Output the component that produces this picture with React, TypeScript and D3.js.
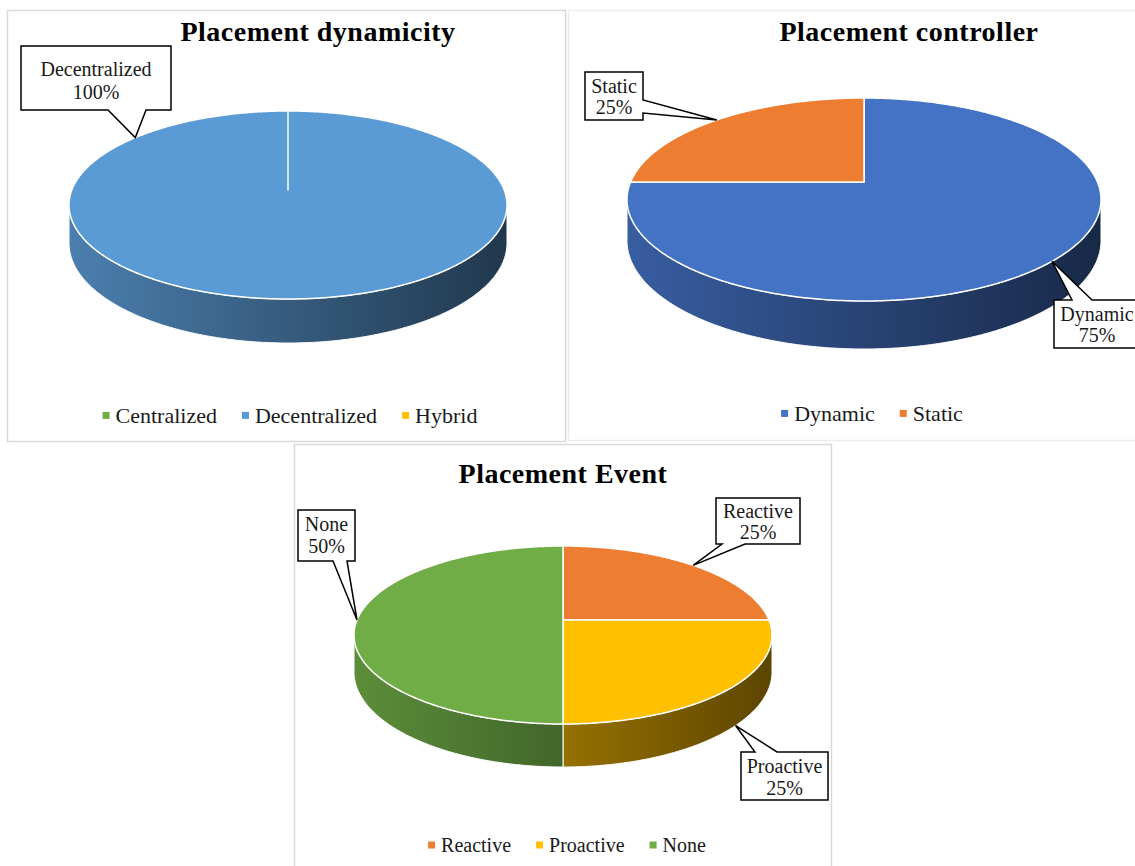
import React from 'react';
import * as d3 from 'd3';

const W = 1135;
const H = 866;
const FONT = "'Liberation Serif', 'Times New Roman', serif";

// ---------- Data ----------
const dynTitle = 'Placement dynamicity';
const dynCategories = ['Centralized', 'Decentralized', 'Hybrid'];
const dynValues = [0, 100, 0];
const dynColors = ['#70ad47', '#5b9bd5', '#ffc000'];

const ctrlTitle = 'Placement controller';
const ctrlCategories = ['Dynamic', 'Static'];
const ctrlValues = [75, 25];
const ctrlColors = ['#4472c4', '#ed7d31'];

const evtTitle = 'Placement Event';
const evtCategories = ['Reactive', 'Proactive', 'None'];
const evtValues = [25, 25, 50];
const evtColors = ['#ed7d31', '#ffc000', '#70ad47'];

// ---------- Layout ----------
type Callout = {
  idx: number;
  tipDeg: number;
  onBottom?: boolean;
  box: [number, number, number, number];
  edge: 'top' | 'bottom' | 'right';
  base: [number, number];
  lines: [number, number];
  textX?: number;
};

type PanelCfg = {
  id: string;
  frame: [number, number, number, number];
  frameColor: string;
  title: string;
  titleX: number;
  titleY: number;
  pie: { cx: number; cy: number; rx: number; top: number; bottom: number; depth: number };
  categories: string[];
  values: number[];
  colors: string[];
  legendX: number;
  legendY: number;
  legendFont: number;
  callouts: Callout[];
};

const panels: PanelCfg[] = [
  {
    id: 'p1',
    frame: [7.5, 10.5, 558, 431],
    frameColor: '#d9d9d9',
    title: dynTitle,
    titleX: 318,
    titleY: 41,
    pie: { cx: 288, cy: 190, rx: 219, top: 111, bottom: 299, depth: 44 },
    categories: dynCategories,
    values: dynValues,
    colors: dynColors,
    legendX: 290,
    legendY: 423,
    legendFont: 22,
    callouts: [
      { idx: 1, tipDeg: 309, box: [21, 46, 150, 64], edge: 'bottom', base: [108, 146], lines: [76, 99] },
    ],
  },
  {
    id: 'p2',
    frame: [568.5, 10.5, 580, 430],
    frameColor: '#ececec',
    title: ctrlTitle,
    titleX: 909,
    titleY: 41,
    pie: { cx: 864, cy: 182, rx: 237, top: 98, bottom: 301, depth: 48 },
    categories: ctrlCategories,
    values: ctrlValues,
    colors: ctrlColors,
    legendX: 872,
    legendY: 421,
    legendFont: 22,
    callouts: [
      { idx: 1, tipDeg: 315, box: [585, 72, 58, 48], edge: 'right', base: [100, 113], lines: [93, 114] },
      { idx: 0, tipDeg: 135, box: [1054, 300, 92, 48], edge: 'top', base: [1072, 1092], lines: [321, 342], textX: 1097 },
    ],
  },
  {
    id: 'p3',
    frame: [294.5, 444.5, 537, 430],
    frameColor: '#d9d9d9',
    title: evtTitle,
    titleX: 563,
    titleY: 483,
    pie: { cx: 563, cy: 620, rx: 209, top: 546, bottom: 724, depth: 43 },
    categories: evtCategories,
    values: evtValues,
    colors: evtColors,
    legendX: 567,
    legendY: 852,
    legendFont: 20,
    callouts: [
      { idx: 0, tipDeg: 45, box: [716, 498, 84, 46], edge: 'bottom', base: [722, 745], lines: [518, 539] },
      { idx: 1, tipDeg: 132, onBottom: true, box: [741, 752, 87, 48], edge: 'top', base: [755, 777], lines: [773, 795] },
      { idx: 2, tipDeg: 270, box: [298, 510, 57, 51], edge: 'bottom', base: [333, 347], lines: [531, 553] },
    ],
  },
];

let _ctx: CanvasRenderingContext2D | null = null;
function measure(text: string, size: number): number {
  if (!_ctx) {
    const c = document.createElement('canvas');
    _ctx = c.getContext('2d');
  }
  if (!_ctx) return text.length * size * 0.5;
  _ctx.font = `${size}px 'Liberation Serif'`;
  return _ctx.measureText(text).width;
}

function scaleColor(color: string, f: number): string {
  const c = d3.rgb(color);
  return d3.rgb(c.r * f, c.g * f, c.b * f).formatHex();
}

function Panel({ cfg }: { cfg: PanelCfg }) {
  const { cx, cy, rx, top, bottom, depth } = cfg.pie;
  const T = cy - top;
  const B = bottom - cy;
  const k = (B - T) / (B + T);
  const Rt = T * (1 + k);
  const R = rx * Math.sqrt(1 - k * k);
  const D0 = depth * (1 - k);
  const proj = (a: number, down = false): [number, number] => {
    const u = Math.sin(a);
    const v = -Math.cos(a);
    const s = 1 / (1 - k * v);
    return [cx + R * u * s, cy + Rt * v * s + (down ? D0 * s : 0)];
  };
  const sample = (a0: number, a1: number, down = false) => {
    const n = Math.max(2, Math.ceil(Math.abs(a1 - a0) / 0.01));
    const pts: [number, number][] = [];
    for (let i = 0; i <= n; i++) pts.push(proj(a0 + ((a1 - a0) * i) / n, down));
    return pts;
  };
  const line = d3.line();
  const arcs = d3.pie<number>().sort(null).value((d) => d)(cfg.values);
  const total = d3.sum(cfg.values);
  const aR = Math.acos(-k);
  const aL = 2 * Math.PI - aR;

  const sides: JSX.Element[] = [];
  const tops: JSX.Element[] = [];
  const defs: JSX.Element[] = [];
  arcs.forEach((a, i) => {
    if (a.value <= 0) return;
    const color = cfg.colors[i];
    const gid = `${cfg.id}-side-${i}`;
    defs.push(
      <linearGradient key={gid} id={gid} gradientUnits="userSpaceOnUse" x1={cx - rx} x2={cx + rx} y1={0} y2={0}>
        <stop offset="0" stopColor={scaleColor(color, 0.82)} />
        <stop offset="1" stopColor={scaleColor(color, 0.36)} />
      </linearGradient>
    );
    const s0 = Math.max(a.startAngle, aR);
    const s1 = Math.min(a.endAngle, aL);
    if (s1 > s0) {
      const pts = [...sample(s0, s1), ...sample(s1, s0, true)];
      sides.push(
        <path key={`s${i}`} d={(line(pts) || '') + 'Z'} fill={`url(#${gid})`} stroke="#ffffff" strokeWidth={1} />
      );
    }
    const tp: [number, number][] = [[cx, cy], ...sample(a.startAngle, a.endAngle)];
    tops.push(
      <path key={`t${i}`} d={(line(tp) || '') + 'Z'} fill={color} stroke="#ffffff" strokeWidth={1.5} strokeLinejoin="round" />
    );
  });

  // legend layout
  const lf = cfg.legendFont;
  const sq = 7;
  const gap1 = 6;
  const gap2 = 25;
  const widths = cfg.categories.map((c) => sq + gap1 + measure(c, lf));
  const totalW = d3.sum(widths) + gap2 * (widths.length - 1);
  let lx = cfg.legendX - totalW / 2;
  const legendItems = cfg.categories.map((c, i) => {
    const x0 = lx;
    lx += widths[i] + gap2;
    return (
      <g key={c}>
        <rect x={x0} y={cfg.legendY - lf * 0.3 - sq / 2 - 1} width={sq} height={sq} fill={cfg.colors[i]} />
        <text x={x0 + sq + gap1} y={cfg.legendY} fontSize={lf} fill="#1a1a1a">{c}</text>
      </g>
    );
  });

  const callouts = cfg.callouts.map((co, j) => {
    const [bx, by, bw, bh] = co.box;
    const [tx, ty] = proj((co.tipDeg * Math.PI) / 180, !!co.onBottom);
    let d = '';
    if (co.edge === 'bottom') {
      d = `M${bx},${by}H${bx + bw}V${by + bh}H${co.base[1]}L${tx},${ty}L${co.base[0]},${by + bh}H${bx}Z`;
    } else if (co.edge === 'top') {
      d = `M${bx},${by}H${co.base[0]}L${tx},${ty}L${co.base[1]},${by}H${bx + bw}V${by + bh}H${bx}Z`;
    } else {
      d = `M${bx},${by}H${bx + bw}V${co.base[0]}L${tx},${ty}L${bx + bw},${co.base[1]}V${by + bh}H${bx}Z`;
    }
    const pct = `${Math.round((cfg.values[co.idx] / total) * 100)}%`;
    const tcx = co.textX ?? bx + bw / 2;
    return (
      <g key={`c${j}`}>
        <path d={d} fill="#ffffff" stroke="#000000" strokeWidth={1.5} />
        <text x={tcx} y={co.lines[0]} textAnchor="middle" fontSize={20} fill="#1a1a1a">{cfg.categories[co.idx]}</text>
        <text x={tcx} y={co.lines[1]} textAnchor="middle" fontSize={20} fill="#1a1a1a">{pct}</text>
      </g>
    );
  });

  const [fx, fy, fw, fh] = cfg.frame;
  return (
    <g>
      <defs>{defs}</defs>
      <rect x={fx} y={fy} width={fw} height={fh} fill="#ffffff" stroke={cfg.frameColor} strokeWidth={1.5} />
      <text
        x={cfg.titleX}
        y={cfg.titleY}
        textAnchor="middle"
        fontSize={28}
        fontWeight="bold"
        letterSpacing={0.5}
        fill="#000000"
      >
        {cfg.title}
      </text>
      {sides}
      {tops}
      {callouts}
      {legendItems}
    </g>
  );
}

export default function App() {
  return (
    <svg
      width={W}
      height={H}
      viewBox={`0 0 ${W} ${H}`}
      style={{ position: 'absolute', left: 0, top: 0, background: '#ffffff' }}
      fontFamily={FONT}
    >
      <rect x={0} y={0} width={W} height={H} fill="#ffffff" />
      {panels.map((p) => (
        <Panel key={p.id} cfg={p} />
      ))}
    </svg>
  );
}
